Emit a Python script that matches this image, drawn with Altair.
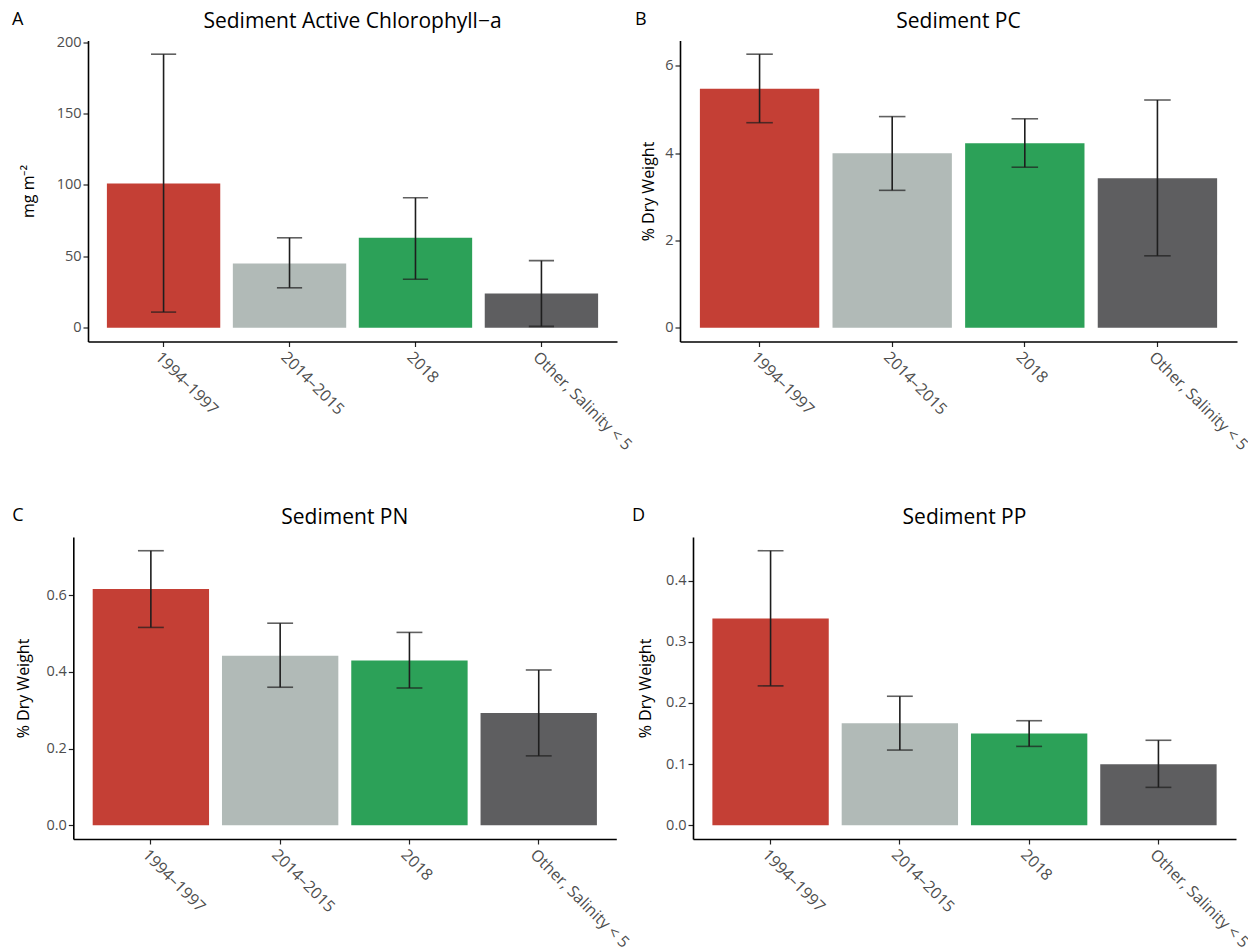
import altair as alt
import pandas as pd

categories = ["1994–1997", "2014–2015", "2018", "Other, Salinity < 5"]
colors = ["#C43F35", "#B1BAB7", "#2CA158", "#5E5E60"]

# Panel A: Sediment Active Chlorophyll-a
a_mean = [101.0, 45.0, 63.0, 24.0]
a_lo = [11.0, 28.0, 34.0, 1.0]
a_hi = [191.5, 63.0, 91.0, 47.0]
a_ticks = [0, 50, 100, 150, 200]

# Panel B: Sediment PC
b_mean = [5.48, 4.00, 4.23, 3.43]
b_lo = [4.70, 3.15, 3.68, 1.65]
b_hi = [6.27, 4.84, 4.79, 5.22]
b_ticks = [0, 2, 4, 6]

# Panel C: Sediment PN
c_mean = [0.616, 0.442, 0.430, 0.293]
c_lo = [0.516, 0.360, 0.358, 0.181]
c_hi = [0.716, 0.527, 0.503, 0.405]
c_ticks = [0.0, 0.2, 0.4, 0.6]

# Panel D: Sediment PP
d_mean = [0.338, 0.167, 0.150, 0.100]
d_lo = [0.228, 0.123, 0.129, 0.062]
d_hi = [0.449, 0.211, 0.171, 0.139]
d_ticks = [0.0, 0.1, 0.2, 0.3, 0.4]

FONT = "Open Sans"
ERR = "#1e1e1e"


def panel(letter, title, ytitle, means, los, his, ticks, fmt, width, height,
          letter_x, title_pad, shift=0.0):
    # shift: how far the plot extends left of the layout origin (px)
    df = pd.DataFrame({"cat": categories, "mean": means, "lo": los, "hi": his})
    top = max(his) * 1.05
    bottom = -max(his) * 0.05
    full_w = width + shift
    step = full_w / 4.2
    xenc = alt.X("cat:N", sort=categories)
    x = alt.X("cat:N", sort=categories,
              scale=alt.Scale(paddingInner=0.1, paddingOuter=0.15,
                              range=[-shift, width]),
              axis=alt.Axis(title=None, labelAngle=45, labelAlign="left",
                            labelBaseline="top", labelOverlap=False,
                            labelPadding=2, labelFontSize=16, labelBound=False))
    y = alt.Y("mean:Q", scale=alt.Scale(domain=[bottom, top], nice=False, zero=False),
              axis=alt.Axis(values=ticks, format=fmt, title=ytitle,
                            titlePadding=title_pad, offset=shift))
    base = alt.Chart(df)
    bars = base.mark_bar().encode(
        x=x, y=y,
        y2=alt.datum(0),
        color=alt.Color("cat:N", sort=categories,
                        scale=alt.Scale(domain=categories, range=colors),
                        legend=None),
    )
    rule = base.mark_rule(color=ERR, strokeWidth=1.6).encode(
        x=xenc, y="lo:Q", y2="hi:Q")
    tick_lo = base.mark_tick(color=ERR, thickness=1.6, size=step * 0.2,
                             orient="horizontal").encode(x=xenc, y="lo:Q")
    tick_hi = base.mark_tick(color=ERR, thickness=1.6, size=step * 0.2,
                             orient="horizontal").encode(x=xenc, y="hi:Q")
    lab = alt.Chart(pd.DataFrame({"t": [letter]})).mark_text(
        font=FONT, fontSize=18, align="left", baseline="alphabetic", color="#000"
    ).encode(x=alt.value(letter_x - shift), y=alt.value(-16), text="t:N")
    ttl = alt.Chart(pd.DataFrame({"t": [title]})).mark_text(
        font=FONT, fontSize=21, align="center", baseline="alphabetic", color="#000"
    ).encode(x=alt.value((width - shift) / 2), y=alt.value(-13), text="t:N")
    return alt.layer(bars, rule, tick_lo, tick_hi, lab, ttl).properties(
        width=width, height=height)


pA = panel("A", "Sediment Active Chlorophyll−a", "mg m⁻²", a_mean, a_lo, a_hi,
           a_ticks, "d", 529, 301, -76, 20)
pB = panel("B", "Sediment PC", "% Dry Weight", b_mean, b_lo, b_hi,
           b_ticks, "d", 557, 301, -45, 8)
pC = panel("C", "Sediment PN", "% Dry Weight", c_mean, c_lo, c_hi,
           c_ticks, ".1f", 528.3, 302, -61, 14, shift=14.7)
pD = panel("D", "Sediment PP", "% Dry Weight", d_mean, d_lo, d_hi,
           d_ticks, ".1f", 543, 302, -61, 12)

row1 = alt.hconcat(pA, pB, spacing=0)
row2 = alt.hconcat(pC, pD, spacing=0)

chart = alt.vconcat(row1, row2, spacing=53.5).properties(
    padding={"left": 4, "top": 2.5, "right": -4, "bottom": 0}
).configure_axis(
    domainColor="#000", domainWidth=1.6, tickColor="#222", tickWidth=1.2,
    tickSize=5, labelColor="#4d4d4d", labelFontSize=14.5, labelFont=FONT,
    titleFont=FONT, titleFontSize=16, titleColor="#000",
    titleFontWeight="normal", grid=False, minExtent=0,
).configure_view(stroke=None)

chart.save("out.html", embed_options={"renderer": "svg", "actions": False})
